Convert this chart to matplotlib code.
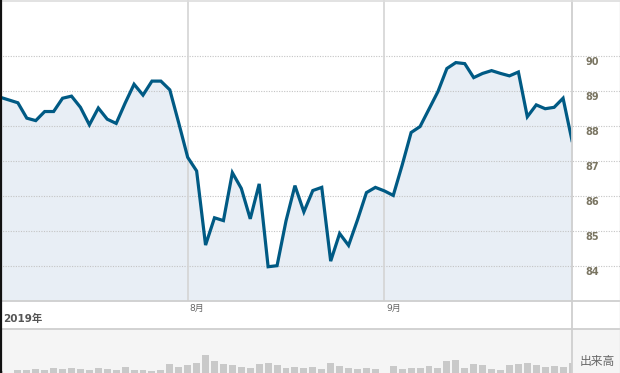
import matplotlib
matplotlib.use('Agg')
import matplotlib.pyplot as plt
from matplotlib.lines import Line2D
from matplotlib.patches import Rectangle
import numpy as np

plt.rcParams['font.family'] = ['DejaVu Sans', 'Noto Sans CJK JP']

# 終値 (2019年7月〜9月)
close = [88.82, 88.74, 88.66, 88.22, 88.15, 88.41, 88.41, 88.79, 88.85, 88.53,
         88.03, 88.51, 88.19, 88.07, 88.65, 89.19, 88.88, 89.28, 89.28, 89.03,
         88.08, 87.10, 86.71, 84.59, 85.37, 85.29, 86.66, 86.21, 85.34, 86.34,
         83.97, 84.00, 85.28, 86.29, 85.54, 86.15, 86.24, 84.13, 84.92, 84.58,
         85.31, 86.09, 86.24, 86.14, 86.01, 86.88, 87.81, 87.98, 88.48, 88.98,
         89.64, 89.81, 89.78, 89.38, 89.50, 89.58, 89.50, 89.43, 89.54, 88.26,
         88.60, 88.49, 88.53, 88.79, 87.58]

# 出来高 (相対値)
volume = [2, 0.3, 3, 3, 4, 3, 5, 4.3, 5, 4,
          3, 5, 4, 3, 6, 3, 3, 2, 3, 9,
          6, 8, 10, 18, 12, 9, 8, 6, 5, 9,
          10, 8, 5, 6, 5, 6, 4, 10, 7, 5,
          4, 5, 4, 0.3, 7, 4, 5, 5, 7, 5,
          12, 13, 5, 9, 8, 4, 3, 8, 9, 10,
          8, 6, 7, 6, 10]

month_idx = [21, 43]
month_labels = ['8月', '9月']
price_ticks = [84, 85, 86, 87, 88, 89, 90]
year_label = '2019年'
volume_label = '出来高'

W, H = 620, 373
def fx(px):
    return px / W
def fy(py):
    return 1 - py / H

LINE = '#005a84'
FILL = '#e8eef5'
GRID = '#c4c4c4'
BORDER = '#cfcfcf'
LABEL = '#7a7562'

fig = plt.figure(figsize=(6.2, 3.73), dpi=100)
fig.patch.set_facecolor('white')

# 出来高パネルの背景
fig.add_artist(Rectangle((0, 0), 1, 44 / H, transform=fig.transFigure,
                         facecolor='#f5f5f5', edgecolor='none', zorder=0))

x = np.arange(len(close))

# 価格チャート
ax = fig.add_axes([0, fy(301), fx(572), 301 / H])
ax.set_facecolor('none')
ax.set_xlim(0, len(close) - 1)
ax.set_ylim(82.99, 91.60)
ax.fill_between(x, close, 82.99, color=FILL, zorder=1, linewidth=0)
ax.plot(x, close, color=LINE, linewidth=2.3, zorder=4, solid_joinstyle='miter')

ytr = ax.get_yaxis_transform()
for v in price_ticks:
    ax.plot([0, 620 / 572], [v, v], transform=ytr, color=GRID, linewidth=0.8,
            linestyle=(0, (1, 1.3)), clip_on=False, zorder=2)
    ax.annotate(str(v), xy=(585 / 572, v), xycoords=ytr, xytext=(0, -4.7),
                textcoords='offset points', ha='left', va='center',
                fontsize=7, fontweight='bold', color=LABEL, annotation_clip=False)

for i, lab in zip(month_idx, month_labels):
    ax.axvline(i, color='#d4d4d4', linewidth=1.2, zorder=2)
    ax.annotate(lab, xy=(i, 0), xycoords=ax.get_xaxis_transform(), xytext=(1.5, -2),
                textcoords='offset points', ha='left', va='top',
                fontsize=6.5, color='#666666', annotation_clip=False)

ax.axis('off')

# 出来高
vax = fig.add_axes([0, 0, fx(572), 44 / H])
vax.set_facecolor('none')
vax.bar(x, volume, width=0.78, color='#c9c9c9', linewidth=0)
vax.set_xlim(0, len(close) - 1)
vax.set_ylim(0, 44)
vax.axis('off')

fig.text(fx(3), fy(319), year_label, ha='left', va='center', fontsize=7.5,
         fontweight='bold', color='#555555')
fig.text(fx(597), fy(361), volume_label, ha='center', va='center', fontsize=8.5,
         color='#666666')

# 枠線
def fline(xs, ys, color, lw):
    fig.add_artist(Line2D([fx(v) for v in xs], [fy(v) for v in ys],
                          transform=fig.transFigure, color=color, linewidth=lw, zorder=10))

fline([0, 620], [301, 301], BORDER, 1.3)
fline([0, 620], [329, 329], BORDER, 1.3)
fline([572, 572], [0, 373], BORDER, 1.3)
fline([0, 620], [0.5, 0.5], '#dddddd', 1.2)
fline([619.5, 619.5], [0, 373], '#dddddd', 1.0)
fline([0.8, 0.8], [0, 373], '#111111', 1.6)

fig.savefig('out.png', dpi=100)
